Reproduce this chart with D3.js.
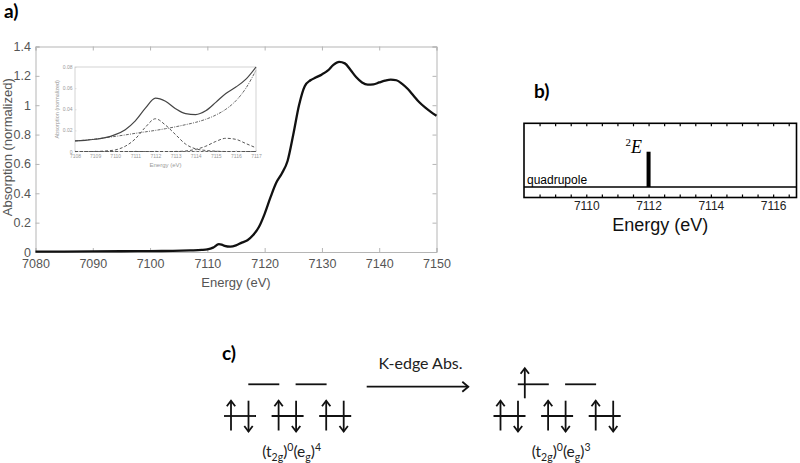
<!DOCTYPE html>
<html><head><meta charset="utf-8">
<script src="https://cdn.jsdelivr.net/npm/d3@7/dist/d3.min.js"></script>
<style>body{margin:0;background:#fff}svg{display:block}</style>
</head><body>
<svg id="fig" width="800" height="463"></svg>
<script>
// ---------- Panel a: main spectrum ----------
const energyA = [7080,7085,7090,7095,7100,7104,7107,7109,7110,7111,7112,7112.5,7113,7114,7115,7116,7117,7118,7119,7120,7121,7122,7123,7124,7125,7126,7127,7128,7129,7130,7131,7132,7133,7134,7135,7136,7137,7138,7139,7140,7141,7142,7143,7144,7145,7146,7147,7148,7149,7150];
const absorbA = [0.002,0.003,0.004,0.005,0.006,0.008,0.011,0.014,0.018,0.030,0.053,0.050,0.042,0.036,0.045,0.064,0.080,0.115,0.170,0.260,0.370,0.470,0.535,0.620,0.800,1.000,1.130,1.170,1.190,1.210,1.235,1.275,1.295,1.285,1.240,1.190,1.155,1.140,1.142,1.155,1.167,1.175,1.170,1.145,1.110,1.065,1.020,0.985,0.955,0.928];
const xTicksA = [7080,7090,7100,7110,7120,7130,7140,7150];
const yTicksA = [0,0.2,0.4,0.6,0.8,1,1.2,1.4];

// ---------- Panel a inset: pre-edge fit ----------
const insetE      = [7108,7108.5,7109,7109.5,7110,7110.5,7111,7111.5,7112,7112.5,7113,7113.5,7114,7114.5,7115,7115.5,7116,7116.5,7117];
const insetTotal  = [0.0100,0.0106,0.0116,0.0131,0.0160,0.0207,0.0290,0.0410,0.0505,0.0475,0.0405,0.0358,0.0350,0.0385,0.0465,0.0550,0.0610,0.0685,0.0800];
const insetBase   = [0.0100,0.0108,0.0118,0.0130,0.0143,0.0157,0.0172,0.0186,0.0200,0.0216,0.0234,0.0254,0.0276,0.0305,0.0345,0.0400,0.0480,0.0600,0.0770];
const insetPeak1  = [0,0,0,0.0005,0.0015,0.0050,0.0120,0.0230,0.0310,0.0250,0.0160,0.0070,0.0025,0.0010,0.0003,0,0,0,0];
const insetPeak2  = [0,0,0,0,0,0,0,0,0,0,0,0.0005,0.0020,0.0050,0.0095,0.0125,0.0115,0.0075,0.0035];
const insetZero   = [0,0,0,0,0,0,0,0,0,0,0,0,0,0,0,0,0,0,0];
const insetXTicks = [7108,7109,7110,7111,7112,7113,7114,7115,7116,7117];
const insetYTicks = [0,0.02,0.04,0.06,0.08];

// ---------- Panel b: calculated stick ----------
const stickE = [7112];
const stickI = [0.56];
const xTicksB = [7110,7112,7114,7116];
const minorTicksB = [7108.5,7109,7109.5,7110,7110.5,7111,7111.5,7112,7112.5,7113,7113.5,7114,7114.5,7115,7115.5,7116,7116.5];

// ---------- Panel c: orbital occupations ----------
const lowerOcc = [[2,2,2],[2,2,2]];
const upperOcc = [[0,0],[1,0]];
const configLabels = [["(t","2g",")","0","(e","g",")","4"],["(t","2g",")","0","(e","g",")","3"]];
const transitionLabel = "K-edge Abs.";

const svg = d3.select("#fig");
const sans = "Liberation Sans, Arial, sans-serif";
const cal = "Lato, 'Open Sans', sans-serif";

// Panel labels
svg.append("text").attr("x",4).attr("y",18).text("a)").attr("font-family",cal).attr("font-weight","bold").attr("font-size",19);
svg.append("text").attr("x",534).attr("y",98).text("b)").attr("font-family",cal).attr("font-weight","bold").attr("font-size",19);
svg.append("text").attr("x",222).attr("y",360).text("c)").attr("font-family",cal).attr("font-weight","bold").attr("font-size",19);

// ===== Panel a =====
const xA = d3.scaleLinear().domain([7080,7150]).range([35.5,436.5]);
const yA = d3.scaleLinear().domain([0,1.4]).range([252,46.5]);
const axCol = "#b5b5b5", txtCol = "#555";
const gA = svg.append("g");
function styleAxis(g, showText){
  g.selectAll(".domain").attr("stroke",axCol).attr("stroke-width",1);
  g.selectAll(".tick line").attr("stroke",axCol);
  g.selectAll(".tick text").attr("fill",txtCol).attr("font-family",sans).attr("font-size",12.5);
  if(!showText) g.selectAll(".tick text").remove();
}
gA.append("g").attr("transform",`translate(0,${yA(0)})`).call(d3.axisBottom(xA).tickValues(xTicksA).tickFormat(d3.format("d")).tickSize(-4).tickPadding(7)).call(g=>styleAxis(g,true));
gA.append("g").attr("transform",`translate(0,${yA(1.4)})`).call(d3.axisTop(xA).tickValues(xTicksA).tickSize(-4)).call(g=>styleAxis(g,false));
gA.append("g").attr("transform",`translate(${xA(7080)},0)`).call(d3.axisLeft(yA).tickValues(yTicksA).tickFormat(d=>d3.format("")(+d.toFixed(1))).tickSize(-4).tickPadding(4.5)).call(g=>styleAxis(g,true));
gA.append("g").attr("transform",`translate(${xA(7150)},0)`).call(d3.axisRight(yA).tickValues(yTicksA).tickSize(-4)).call(g=>styleAxis(g,false));
gA.append("text").attr("x",xA(7115)).attr("y",287).attr("text-anchor","middle").attr("font-family",sans).attr("font-size",13).attr("fill",txtCol).text("Energy (eV)");
gA.append("text").attr("transform",`translate(12,${(yA(0)+yA(1.4))/2 - 2}) rotate(-90)`).attr("text-anchor","middle").attr("font-family",sans).attr("font-size",13).attr("fill",txtCol).text("Absorption (normalized)");
gA.append("path").datum(energyA.map((e,i)=>[e,absorbA[i]])).attr("fill","none").attr("stroke","#111").attr("stroke-width",2.3)
  .attr("d",d3.line().x(d=>xA(d[0])).y(d=>yA(d[1])).curve(d3.curveMonotoneX));

// ===== Inset =====
const xI = d3.scaleLinear().domain([7108,7117]).range([75,256]);
const yI = d3.scaleLinear().domain([0,0.08]).range([151.5,67]);
const gI = svg.append("g");
gI.append("rect").attr("x",xI(7108)).attr("y",yI(0.08)).attr("width",xI(7117)-xI(7108)).attr("height",yI(0)-yI(0.08)).attr("fill","#fff").attr("stroke","#c8c8c8").attr("stroke-width",0.8);
function styleInset(g){
  g.selectAll(".domain").remove();
  g.selectAll(".tick line").attr("stroke","#ccc").attr("stroke-width",0.6);
  g.selectAll(".tick text").attr("fill","#999").attr("font-family",sans).attr("font-size",5);
}
gI.append("g").attr("transform",`translate(0,${yI(0)})`).call(d3.axisBottom(xI).tickValues(insetXTicks).tickFormat(d3.format("d")).tickSize(-1.5).tickPadding(3)).call(styleInset);
gI.append("g").attr("transform",`translate(${xI(7108)},0)`).call(d3.axisLeft(yI).tickValues(insetYTicks).tickFormat(d=>d===0?"0":d3.format(".2f")(d)).tickSize(-1.5).tickPadding(2.5)).call(styleInset);
gI.append("text").attr("x",(xI(7108)+xI(7117))/2).attr("y",167).attr("text-anchor","middle").attr("font-family",sans).attr("font-size",6).attr("fill","#999").text("Energy (eV)");
gI.append("text").attr("transform",`translate(59,${(yI(0)+yI(0.08))/2}) rotate(-90)`).attr("text-anchor","middle").attr("font-family",sans).attr("font-size",5.5).attr("fill","#999").text("Absorption (normalized)");
const lineI = d3.line().x(d=>xI(d[0])).y(d=>yI(d[1])).curve(d3.curveMonotoneX);
const seriesI = [
  {v:insetZero, dash:"2.5,2", w:1.2, c:"#666"},
  {v:insetPeak1, dash:"3,2", w:1, c:"#555"},
  {v:insetPeak2, dash:"3,2", w:1, c:"#555"},
  {v:insetBase, dash:"3,1.2,1,1.2", w:1, c:"#666"},
  {v:insetTotal, dash:null, w:1.2, c:"#444"}
];
seriesI.forEach(s=>{
  gI.append("path").datum(insetE.map((e,i)=>[e,s.v[i]])).attr("fill","none").attr("stroke",s.c).attr("stroke-width",s.w)
    .attr("stroke-dasharray",s.dash).attr("d",lineI);
});

// ===== Panel b =====
const xB = d3.scaleLinear().domain([7108,7116.75]).range([524,796.5]);
const yB = d3.scaleLinear().domain([0,1]).range([187,124]);
const topB = 123.3, botB = 197.5;
const gB = svg.append("g");
function styleB(g){
  g.selectAll(".domain").remove();
  g.selectAll(".tick line").attr("stroke","#000").attr("stroke-width",1.2);
  g.selectAll(".tick text").attr("fill","#222").attr("font-family",sans).attr("font-size",12);
}
gB.append("g").attr("transform",`translate(0,${botB})`).call(d3.axisBottom(xB).tickValues(minorTicksB).tickFormat("").tickSize(-3)).call(styleB);
gB.append("g").attr("transform",`translate(0,${topB})`).call(d3.axisTop(xB).tickValues(minorTicksB).tickFormat("").tickSize(-3)).call(styleB);
gB.append("g").attr("transform",`translate(0,${botB})`).call(d3.axisBottom(xB).tickValues(xTicksB).tickFormat(d3.format("d")).tickSize(0).tickPadding(3.5)).call(styleB);
gB.append("rect").attr("x",xB(7108)).attr("y",topB).attr("width",xB(7116.75)-xB(7108)).attr("height",botB-topB).attr("fill","none").attr("stroke","#000").attr("stroke-width",1.6);
gB.append("line").attr("x1",xB(7108)).attr("x2",xB(7116.75)).attr("y1",yB(0)).attr("y2",yB(0)).attr("stroke","#000").attr("stroke-width",1.4);
gB.selectAll("rect.stick").data(stickE).join("rect").attr("class","stick")
  .attr("x",d=>xB(d)-2).attr("width",4).attr("y",(d,i)=>yB(stickI[i])).attr("height",(d,i)=>yB(0)-yB(stickI[i])).attr("fill","#000");
const lab = gB.append("text").attr("x",xB(stickE[0])-23).attr("y",yB(stickI[0])+1.5).attr("font-family","Liberation Serif, Times New Roman, serif").attr("font-size",18);
lab.append("tspan").attr("font-size",11).attr("dy",-7).text("2");
lab.append("tspan").attr("font-style","italic").attr("dy",7).text("E");
gB.append("text").attr("x",xB(7108)+3).attr("y",yB(0)-3.5).attr("font-family",sans).attr("font-size",12).attr("fill","#000").text("quadrupole");
gB.append("text").attr("x",(xB(7108)+xB(7116.75))/2).attr("y",230.5).attr("text-anchor","middle").attr("font-family",sans).attr("font-size",18).attr("fill","#111").text("Energy (eV)");

// ===== Panel c =====
const gC = svg.append("g");
const xState = d3.scaleLinear().domain([0,1]).range([224,493.5]);
const lowerStep = 47.6, upperStep = 47.3, levelW = 32, upperOffset = 24.3;
const yLev = d3.scaleLinear().domain([0,1]).range([416,384.3]);
const ink = "#111";
function arrow(x, yFrom, yTo){
  gC.append("line").attr("x1",x).attr("x2",x).attr("y1",yFrom).attr("y2",yTo).attr("stroke",ink).attr("stroke-width",1.8);
  const s = yTo < yFrom ? 1 : -1;
  gC.append("path").attr("d",`M${x-4.2},${yTo+5.5*s} L${x},${yTo} L${x+4.2},${yTo+5.5*s}`).attr("fill","none").attr("stroke",ink).attr("stroke-width",1.8);
}
[0,1].forEach(s=>{
  lowerOcc[s].forEach((n,i)=>{
    const x0 = xState(s)+i*lowerStep, y = yLev(0);
    gC.append("line").attr("x1",x0).attr("x2",x0+levelW).attr("y1",y).attr("y2",y).attr("stroke",ink).attr("stroke-width",1.8);
    if(n>=1) arrow(x0+7, y+14.5, y-15.3);
    if(n>=2) arrow(x0+24.5, y-15.3, y+15.5);
  });
  upperOcc[s].forEach((n,i)=>{
    const x0 = xState(s)+upperOffset+i*upperStep, y = yLev(1);
    gC.append("line").attr("x1",x0).attr("x2",x0+levelW-1).attr("y1",y).attr("y2",y).attr("stroke",ink).attr("stroke-width",1.8);
    if(n>=1) arrow(x0+7, y+14, y-16);
    if(n>=2) arrow(x0+24.5, y-15.3, y+15.5);
  });
  const cx = xState(s) + (2*lowerStep+levelW)/2 + 4;
  const t = gC.append("text").attr("x",cx).attr("y",457).attr("text-anchor","middle").attr("font-family",cal).attr("font-size",15.5).attr("fill","#222");
  const parts = configLabels[s];
  t.append("tspan").text(parts[0]);
  t.append("tspan").attr("font-size",10.5).attr("dy",4).text(parts[1]);
  t.append("tspan").attr("dy",-4).text(parts[2]);
  t.append("tspan").attr("font-size",10.5).attr("dy",-6).text(parts[3]);
  t.append("tspan").attr("dy",6).text(parts[4]);
  t.append("tspan").attr("font-size",10.5).attr("dy",4).text(parts[5]);
  t.append("tspan").attr("dy",-4).text(parts[6]);
  t.append("tspan").attr("font-size",10.5).attr("dy",-6).text(parts[7]);
});
// transition arrow
const xT = d3.scaleLinear().domain([0,1]).range([366.7,468.3]);
gC.append("line").attr("x1",xT(0)).attr("x2",xT(1)).attr("y1",386.7).attr("y2",386.7).attr("stroke",ink).attr("stroke-width",1.8);
gC.append("path").attr("d",`M${xT(1)-6},${386.7-5} L${xT(1)},386.7 L${xT(1)-6},${386.7+5}`).attr("fill","none").attr("stroke",ink).attr("stroke-width",1.8);
gC.append("text").attr("x",(xT(0)+xT(1))/2+3).attr("y",368.5).attr("text-anchor","middle").attr("font-family",cal).attr("font-size",16).attr("fill","#222").text(transitionLabel);
</script>
</body></html>
